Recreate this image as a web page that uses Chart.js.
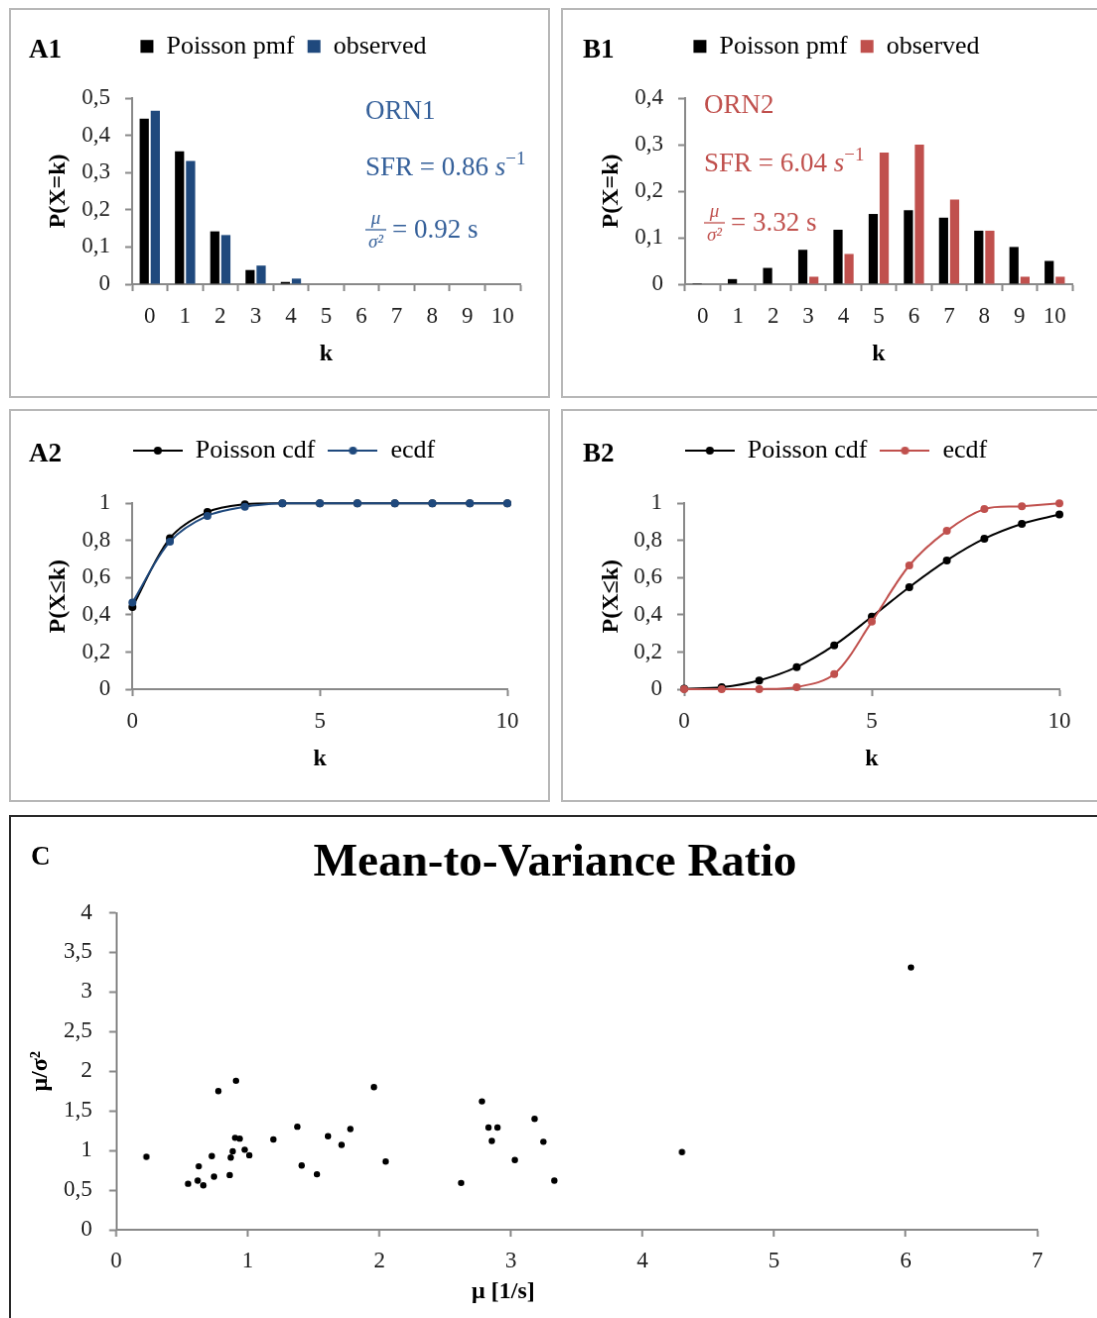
<!DOCTYPE html>
<html>
<head>
<meta charset="utf-8">
<title>Poisson fit of ORN spike counts</title>
<script src="https://cdn.jsdelivr.net/npm/chart.js@4.4.1/dist/chart.umd.min.js"></script>
<style>
  html, body { margin: 0; padding: 0; overflow: hidden; background: #fff; width: 1097px; height: 1318px; }
  canvas { position: absolute; border: 2px solid #b8b8b8; }
  #chartC { border-color: #2a2a2a; }
</style>
</head>
<body>
<canvas id="chartA1" width="541" height="390" style="left:9px;top:8px"></canvas>
<canvas id="chartB1" width="550" height="390" style="left:561px;top:8px"></canvas>
<canvas id="chartA2" width="541" height="393" style="left:9px;top:409px"></canvas>
<canvas id="chartB2" width="550" height="393" style="left:561px;top:409px"></canvas>
<canvas id="chartC" width="1096" height="505" style="left:9px;top:815px"></canvas>
<script>
// spike counts per bin, k = 0..10
const kLabels = ['0', '1', '2', '3', '4', '5', '6', '7', '8', '9', '10'];
const kValues = [0, 1, 2, 3, 4, 5, 6, 7, 8, 9, 10];

// ORN1
const orn1PoissonPmf = [0.445, 0.357, 0.142, 0.038, 0.006, 0, 0, 0, 0, 0, 0];
const orn1ObservedPmf = [0.466, 0.331, 0.132, 0.050, 0.015, 0, 0, 0, 0, 0, 0];
const orn1PoissonCdf = [0.442, 0.812, 0.953, 0.995, 1, 1, 1, 1, 1, 1, 1];
const orn1Ecdf = [0.466, 0.794, 0.933, 0.982, 1, 1, 1, 1, 1, 1, 1];

// ORN2
const orn2PoissonPmf = [0.002, 0.011, 0.035, 0.074, 0.117, 0.151, 0.159, 0.143, 0.115, 0.080, 0.050];
const orn2ObservedPmf = [0, 0, 0, 0.016, 0.065, 0.283, 0.300, 0.182, 0.115, 0.016, 0.016];
const orn2PoissonCdf = [0.002, 0.011, 0.047, 0.119, 0.236, 0.390, 0.549, 0.693, 0.810, 0.890, 0.940];
const orn2Ecdf = [0, 0, 0, 0.011, 0.081, 0.363, 0.666, 0.852, 0.969, 0.984, 1.0];

// all neurons: mean rate (1/s) and mean-to-variance ratio
const meanRate = [0.23, 0.547, 0.62, 0.663, 0.628, 0.727, 0.744, 0.777, 0.863, 0.871, 0.886, 0.904,
  0.911, 0.939, 0.977, 1.012, 1.195, 1.377, 1.41, 1.526, 1.61, 1.713, 1.78, 1.959, 2.048,
  2.622, 2.78, 2.83, 2.898, 2.855, 3.03, 3.18, 3.247, 3.33, 4.30, 6.04];
const meanVarRatio = [0.92, 0.58, 0.62, 0.56, 0.80, 0.93, 0.67, 1.75, 0.69, 0.91, 0.99, 1.16,
  1.88, 1.15, 1.01, 0.94, 1.14, 1.30, 0.81, 0.70, 1.18, 1.07, 1.27, 1.80, 0.86,
  0.59, 1.62, 1.29, 1.29, 1.12, 0.88, 1.40, 1.11, 0.62, 0.98, 3.31];

const pmfTicks = [0, 0.1, 0.2, 0.3, 0.4, 0.5];

const blue = '#1F497D';
const blueText = '#35609A';
const red = '#C0504D';
const axisGrey = '#898989';
const serif = '"Liberation Serif", "Times New Roman", serif';

Chart.defaults.font.family = serif;
Chart.defaults.color = '#222';
Chart.defaults.animation = false;

const comma = v => String(Math.round(v * 100) / 100).replace('.', ',');

function tickGrid() {
  return { drawOnChartArea: false, drawTicks: true, tickLength: 7, tickColor: axisGrey, tickWidth: 2 };
}
const axisBorder = { color: axisGrey, width: 2 };
const tickFont = { size: 23 };
const titleFont = { size: 24, weight: 'bold' };

// pushes the chart area down below the legend
function legendGap(gap) {
  return {
    id: 'legendGap',
    beforeInit(chart) {
      const fit = chart.legend.fit;
      chart.legend.fit = function () {
        fit.call(this);
        this.height += gap;
      };
    }
  };
}

// free text on the canvas: panel letters, ORN names, SFR, mu/sigma^2
function notes(items) {
  return {
    id: 'notes',
    afterDraw(chart) {
      const ctx = chart.ctx;
      ctx.save();
      ctx.textBaseline = 'middle';
      items.forEach(item => {
        ctx.fillStyle = item.color || '#000';
        ctx.strokeStyle = item.color || '#000';
        if (item.frac) {
          ctx.lineWidth = 1.3;
          ctx.beginPath();
          ctx.moveTo(item.x, item.y);
          ctx.lineTo(item.x + item.w, item.y);
          ctx.stroke();
          ctx.textAlign = 'center';
          ctx.font = 'italic 19px ' + serif;
          ctx.fillText(item.num, item.x + item.w / 2, item.y - 11);
          ctx.fillText(item.den, item.x + item.w / 2, item.y + 13);
          return;
        }
        ctx.textAlign = item.align || 'left';
        let x = item.x;
        item.runs.forEach(run => {
          ctx.font = run.font;
          ctx.fillText(run.text, x, item.y + (run.dy || 0));
          x += ctx.measureText(run.text).width;
        });
      });
      ctx.restore();
    }
  };
}

const f27 = '27px ' + serif;
const label = (text, x, y) => ({ x: x, y: y, runs: [{ text: text, font: 'bold 27px ' + serif }] });

function lineSymbol(color) {
  const c = document.createElement('canvas');
  c.width = 50;
  c.height = 10;
  const g = c.getContext('2d');
  g.strokeStyle = color;
  g.lineWidth = 2;
  g.beginPath();
  g.moveTo(0, 5);
  g.lineTo(50, 5);
  g.stroke();
  g.fillStyle = color;
  g.beginPath();
  g.arc(25, 5, 4, 0, Math.PI * 2);
  g.fill();
  return c;
}

function pmfChart(id, poisson, observed, obsColor, yMax, box, items) {
  return new Chart(document.getElementById(id), {
    type: 'bar',
    data: {
      labels: kLabels,
      datasets: [
        { label: 'Poisson pmf', data: poisson, backgroundColor: '#000', barPercentage: 0.83, categoryPercentage: 0.627 },
        { label: 'observed', data: observed, backgroundColor: obsColor, barPercentage: 0.83, categoryPercentage: 0.627 }
      ]
    },
    options: {
      responsive: false,
      layout: { padding: box.padding },
      plugins: {
        legend: { labels: { boxWidth: 13, boxHeight: 13, padding: 13, color: '#000', font: { size: 26 } } },
        tooltip: { enabled: false }
      },
      scales: {
        x: {
          grid: tickGrid(), border: axisBorder,
          ticks: { font: tickFont, padding: 12 },
          title: { display: true, text: 'k', color: '#000', font: titleFont, padding: { top: 0, bottom: box.xTitlePad } },
          afterFit: s => { s.height = box.xHeight; }
        },
        y: {
          min: 0, max: yMax,
          grid: tickGrid(), border: axisBorder,
          afterBuildTicks: s => { s.ticks = pmfTicks.filter(v => v <= yMax + 1e-9).map(v => ({ value: v })); },
          ticks: { font: tickFont, padding: 15, callback: comma },
          title: { display: true, text: 'P(X=k)', color: '#000', font: titleFont, padding: { top: box.yTitlePad, bottom: 0 } },
          afterFit: s => { s.width = box.yWidth; }
        }
      }
    },
    plugins: [legendGap(box.gap), notes(items)]
  });
}

function cdfChart(id, poisson, ecdf, ecdfColor, box, items) {
  const lineSet = (name, values, color, order) => ({
    label: name,
    data: kValues.map((k, i) => ({ x: k, y: values[i] })),
    borderColor: color, backgroundColor: color, pointBackgroundColor: color,
    borderWidth: 2, pointRadius: 4, pointBorderWidth: 0,
    tension: 0.33, clip: false, order: order
  });
  return new Chart(document.getElementById(id), {
    type: 'line',
    data: {
      datasets: [
        lineSet('Poisson cdf', poisson, '#000', 1),
        lineSet('ecdf', ecdf, ecdfColor, 0)
      ]
    },
    options: {
      responsive: false,
      layout: { padding: box.padding },
      plugins: {
        legend: {
          labels: {
            usePointStyle: true, pointStyleWidth: 50, padding: 13, color: '#000', font: { size: 26 },
            sort: (a, b) => a.datasetIndex - b.datasetIndex,
            generateLabels: chart => Chart.defaults.plugins.legend.labels.generateLabels(chart).map(item => {
              item.pointStyle = lineSymbol(chart.data.datasets[item.datasetIndex].borderColor);
              return item;
            })
          }
        },
        tooltip: { enabled: false }
      },
      scales: {
        x: {
          type: 'linear', min: 0, max: 10,
          grid: tickGrid(), border: axisBorder,
          ticks: { stepSize: 5, font: tickFont, padding: 12 },
          title: { display: true, text: 'k', color: '#000', font: titleFont, padding: { top: 0, bottom: box.xTitlePad } },
          afterFit: s => { s.height = box.xHeight; }
        },
        y: {
          min: 0, max: 1,
          grid: tickGrid(), border: axisBorder,
          ticks: { stepSize: 0.2, font: tickFont, padding: 15, callback: comma },
          title: { display: true, text: 'P(X≤k)', color: '#000', font: titleFont, padding: { top: box.yTitlePad, bottom: 0 } },
          afterFit: s => { s.width = box.yWidth; }
        }
      }
    },
    plugins: [legendGap(box.gap), notes(items)]
  });
}

pmfChart('chartA1', orn1PoissonPmf, orn1ObservedPmf, blue, 0.5,
  { padding: { left: 36, right: 28, top: 10.7, bottom: 0 }, gap: 29.3, yWidth: 86, xHeight: 113, yTitlePad: -3, xTitlePad: 27.6 },
  [
    label('A1', 18, 41),
    { x: 357, y: 103, color: blueText, runs: [{ text: 'ORN1', font: f27 }] },
    { x: 357, y: 160, color: blueText, runs: [
      { text: 'SFR = 0.86 ', font: f27 },
      { text: 's', font: 'italic 27px ' + serif },
      { text: '−1', font: '19px ' + serif, dy: -9 }
    ] },
    { frac: true, x: 357, y: 222, w: 21, num: 'μ', den: 'σ²', color: blueText },
    { x: 384, y: 223, color: blueText, runs: [{ text: '= 0.92 s', font: f27 }] }
  ]);

pmfChart('chartB1', orn2PoissonPmf, orn2ObservedPmf, red, 0.4,
  { padding: { left: 38, right: 37, top: 10.7, bottom: 0 }, gap: 29.3, yWidth: 85, xHeight: 113, yTitlePad: -3.4, xTitlePad: 27.6 },
  [
    label('B1', 20, 41),
    { x: 142, y: 97, color: red, runs: [{ text: 'ORN2', font: f27 }] },
    { x: 142, y: 156, color: red, runs: [
      { text: 'SFR = 6.04 ', font: f27 },
      { text: 's', font: 'italic 27px ' + serif },
      { text: '−1', font: '19px ' + serif, dy: -9 }
    ] },
    { frac: true, x: 142, y: 215, w: 21, num: 'μ', den: 'σ²', color: red },
    { x: 169, y: 216, color: red, runs: [{ text: '= 3.32 s', font: f27 }] }
  ]);

cdfChart('chartA2', orn1PoissonCdf, orn1Ecdf, blue,
  { padding: { left: 50, right: 41, top: 14, bottom: 0 }, gap: 30.3, yWidth: 72.3, xHeight: 112, yTitlePad: -16.4, xTitlePad: 27.1 },
  [label('A2', 18, 44)]);

cdfChart('chartB2', orn2PoissonCdf, orn2Ecdf, red,
  { padding: { left: 50, right: 50, top: 14, bottom: 0 }, gap: 30.3, yWidth: 72, xHeight: 112, yTitlePad: -15.4, xTitlePad: 27.1 },
  [label('B2', 20, 44)]);

new Chart(document.getElementById('chartC'), {
  type: 'scatter',
  data: {
    datasets: [{
      label: 'μ/σ²',
      data: meanRate.map((r, i) => ({ x: r, y: meanVarRatio[i] })),
      backgroundColor: '#000', borderColor: '#000', pointRadius: 3.2, pointBorderWidth: 0
    }]
  },
  options: {
    responsive: false,
    layout: { padding: { left: 20, right: 24, top: 0, bottom: 0 } },
    plugins: {
      legend: { display: false },
      tooltip: { enabled: false },
      title: {
        display: true, text: 'Mean-to-Variance Ratio', color: '#000',
        font: { size: 47, weight: 'bold' }, padding: { top: 18.8, bottom: 21.3 }
      }
    },
    scales: {
      x: {
        type: 'linear', min: 0, max: 7,
        grid: tickGrid(), border: axisBorder,
        ticks: { stepSize: 1, font: tickFont, padding: 11 },
        afterFit: s => { s.height = 89; }
      },
      y: {
        min: 0, max: 4,
        grid: tickGrid(), border: axisBorder,
        ticks: { stepSize: 0.5, font: tickFont, padding: 17, callback: comma },
        title: { display: true, text: 'μ/σ²', color: '#000', font: titleFont, padding: { top: -4.4, bottom: 0 } },
        afterFit: s => { s.width = 85.5; }
      },
      // empty right-hand spacer so the title centres like the original
      ySpacer: {
        type: 'linear', position: 'right', display: true,
        grid: { display: false }, border: { display: false }, ticks: { display: false },
        afterFit: s => { s.width = 42; }
      }
    }
  },
  plugins: [notes([
    label('C', 20, 41),
    { x: 494, y: 479, align: 'center', runs: [{ text: 'μ [1/s]', font: 'bold 24px ' + serif }] }
  ])]
});
</script>
</body>
</html>
